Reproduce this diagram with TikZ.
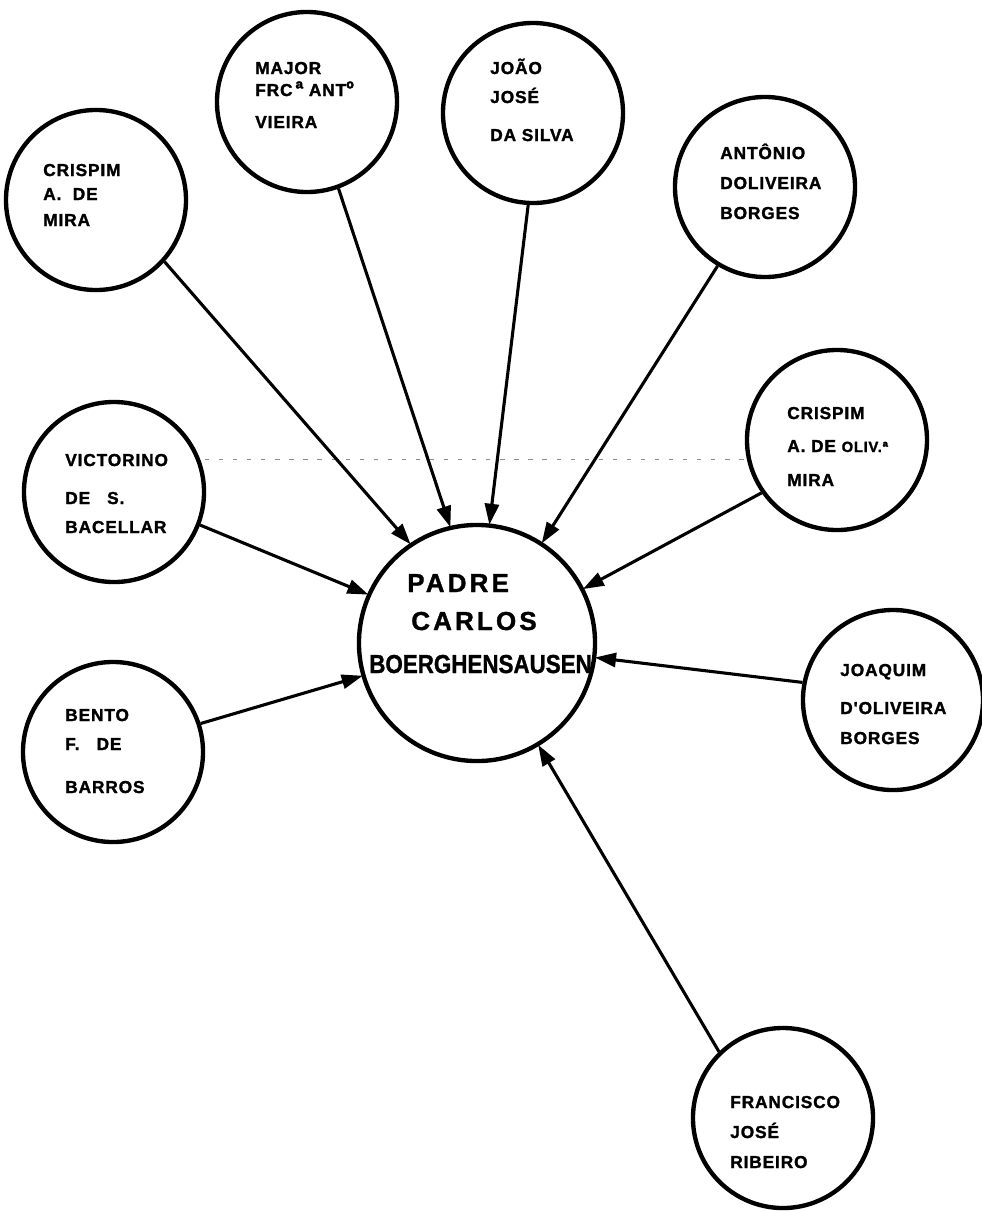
\documentclass[tikz,border=0pt]{standalone}
\usepackage{fontspec}
\usepackage{graphicx}
\usetikzlibrary{arrows.meta}
\setmainfont{Liberation Sans}[BoldFeatures={FakeBold=1.2}]
\newfontfamily\namefont{Liberation Sans}[LetterSpace=5, BoldFeatures={FakeBold=1.6}]
\newfontfamily\padrefont{Liberation Sans}[LetterSpace=12, BoldFeatures={FakeBold=1.2}]
\begin{document}
\begin{tikzpicture}[x=0.025cm,y=-0.025cm,
  person/.style={circle, draw, line width=3.1pt, minimum size=4.5cm, inner sep=0pt},
  padre/.style={circle, draw, line width=3.1pt, minimum size=5.9cm, inner sep=0pt},
  lbl/.style={anchor=base west, inner sep=0pt, font=\namefont\bfseries\fontsize{12.3}{14}\selectfont},
  plbl/.style={anchor=base west, inner sep=0pt, font=\padrefont\bfseries\fontsize{18.5}{20}\selectfont},
  link/.style={line width=2.2pt, -{Triangle[length=15pt,width=10pt]}, shorten >=-1pt}]
\useasboundingbox (0,0) rectangle (981,1211);

% faint guide line across the sheet
\coordinate (gl) at (205,459);
\coordinate (gr) at (745,459);
\draw[black!45, line width=0.5pt, dash pattern=on 3pt off 7pt] (gl) -- (gr);

% central node
\node[padre] (pc) at (477,643) {};
\node[plbl] (pc1) at (407,592) {PADRE};
\node[plbl] (pc2) at (411,630) {CARLOS};
\node[anchor=base west, inner sep=0pt, font=\bfseries\fontsize{18.5}{20}\selectfont] (pc3) at (369,673) {\scalebox{0.86}[1]{BOERGHENSAUSEN}};

% surrounding people
\node[person] (cm) at (96,200) {};
\node[lbl] (cm1) at (43,176) {CRISPIM};
\node[lbl] (cm2) at (43,200) {A.\ \ DE};
\node[lbl] (cm3) at (43,226) {MIRA};

\node[person] (mv) at (307,102) {};
\node[lbl] (mv1) at (255,74) {MAJOR};
\node[lbl] (mv2) at (255,96) {FRC\,{\fontsize{15}{16}\selectfont ª} ANT{\fontsize{15}{16}\selectfont º}};
\node[lbl] (mv3) at (255,128) {VIEIRA};

\node[person] (js) at (533,113) {};
\node[lbl] (js1) at (490,74) {JOÃO};
\node[lbl] (js2) at (490,103) {JOSÉ};
\node[lbl] (js3) at (490,141) {DA SILVA};

\node[person] (ab) at (765,187) {};
\node[lbl] (ab1) at (720,159) {ANTÔNIO};
\node[lbl] (ab2) at (720,189) {DOLIVEIRA};
\node[lbl] (ab3) at (720,219) {BORGES};

\node[person] (co) at (837,440) {};
\node[lbl] (co1) at (787,419) {CRISPIM};
\node[lbl] (co2) at (787,452) {A. DE {\fontsize{10.5}{12}\selectfont OLIV.ª}};
\node[lbl] (co3) at (787,486) {MIRA};

\node[person] (jo) at (893,700) {};
\node[lbl] (jo1) at (840,676) {JOAQUIM};
\node[lbl] (jo2) at (840,714) {D'OLIVEIRA};
\node[lbl] (jo3) at (840,744) {BORGES};

\node[person] (fr) at (783,1118) {};
\node[lbl] (fr1) at (730,1108) {FRANCISCO};
\node[lbl] (fr2) at (730,1138) {JOSÉ};
\node[lbl] (fr3) at (730,1168) {RIBEIRO};

\node[person] (vb) at (114,492) {};
\node[lbl] (vb1) at (65,466) {VICTORINO};
\node[lbl] (vb2) at (65,504) {DE\ \ \ S.};
\node[lbl] (vb3) at (65,533) {BACELLAR};

\node[person] (bb) at (113,752) {};
\node[lbl] (bb1) at (65,721) {BENTO};
\node[lbl] (bb2) at (65,750) {F.\ \ \ DE};
\node[lbl] (bb3) at (65,793) {BARROS};

% links into the centre
\draw[link] (cm.-42)  -- (pc.124);
\draw[link] (mv.-70)  -- (pc.103);
\draw[link] (js.-93)  -- (pc.84);
\draw[link] (ab.-121) -- (pc.57);
\draw[link] (co.-145) -- (pc.27);
\draw[link] (jo.169)  -- (pc.-7);
\draw[link] (fr.134)  -- (pc.-59);
\draw[link] (vb.-21)  -- (pc.156);
\draw[link] (bb.18)   -- (pc.196);
\end{tikzpicture}
\end{document}
